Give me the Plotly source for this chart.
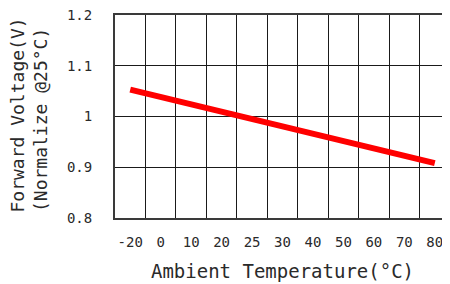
import plotly.graph_objects as go

# Data
tick_labels = ["-20", "0", "10", "20", "25", "30", "40", "50", "60", "70", "80"]
y_ticks = [0.8, 0.9, 1.0, 1.1, 1.2]
y_tick_text = ["0.8", "0.9", "1", "1.1", "1.2"]
curve_temp = ["-20", "80"]
curve_vf = [1.053, 0.908]

# positions along the (evenly spaced) temperature scale
tick_pos = [i + 0.5 for i in range(len(tick_labels))]
curve_x = [tick_labels.index(t) + 0.5 for t in curve_temp]

FONT = "DejaVu Sans Mono"
TXT = "#2a2a2a"

fig = go.Figure()
fig.add_trace(go.Scatter(
    x=curve_x, y=curve_vf, mode="lines",
    line=dict(color="#ff0000", width=6),
    showlegend=False, hoverinfo="skip"))

# page body has an 8px margin, so the figure is 8px smaller each way
fig.update_layout(
    width=442, height=276,
    margin=dict(l=107, r=0, t=7, b=66),
    paper_bgcolor="white", plot_bgcolor="white",
    font=dict(family=FONT, color=TXT),
    xaxis=dict(
        range=[0, len(tick_labels)], automargin=False,
        tickmode="array", tickvals=tick_pos, ticktext=tick_labels,
        showgrid=False, zeroline=False,
        tickfont=dict(size=14, family=FONT, color=TXT),
        ticks="", ticklabelstandoff=10, ticklabeloverflow="allow",
        showline=True, mirror=True, linecolor="#3a3a3a", linewidth=2,
        minor=dict(tickmode="array", tickvals=list(range(len(tick_labels) + 1)),
                   showgrid=True, gridcolor="#1a1a1a", gridwidth=1.3, ticks=""),
        title=dict(text="Ambient Temperature(°C)", font=dict(size=19, family=FONT, color=TXT),
                   standoff=16),
    ),
    yaxis=dict(
        range=[0.8, 1.2], automargin=False,
        tickmode="array", tickvals=y_ticks, ticktext=y_tick_text,
        showgrid=True, gridcolor="#1a1a1a", gridwidth=1.3, zeroline=False,
        tickfont=dict(size=14, family=FONT, color=TXT),
        ticks="", ticklabelstandoff=18, ticklabeloverflow="allow",
        showline=True, mirror=False, linecolor="#3a3a3a", linewidth=2,
    ),
)

fig.add_annotation(text="Forward Voltage(V)", textangle=-90,
                   xref="paper", yref="paper", x=(17 - 115) / 335, y=(218 - 214) / 203,
                   xanchor="center", yanchor="bottom", showarrow=False,
                   font=dict(size=18, family=FONT, color=TXT))
fig.add_annotation(text="(Normalize @25°C)", textangle=-90,
                   xref="paper", yref="paper", x=(40 - 115) / 335, y=(218 - 214) / 203,
                   xanchor="center", yanchor="bottom", showarrow=False,
                   font=dict(size=18, family=FONT, color=TXT))

fig.write_html("out.html")
